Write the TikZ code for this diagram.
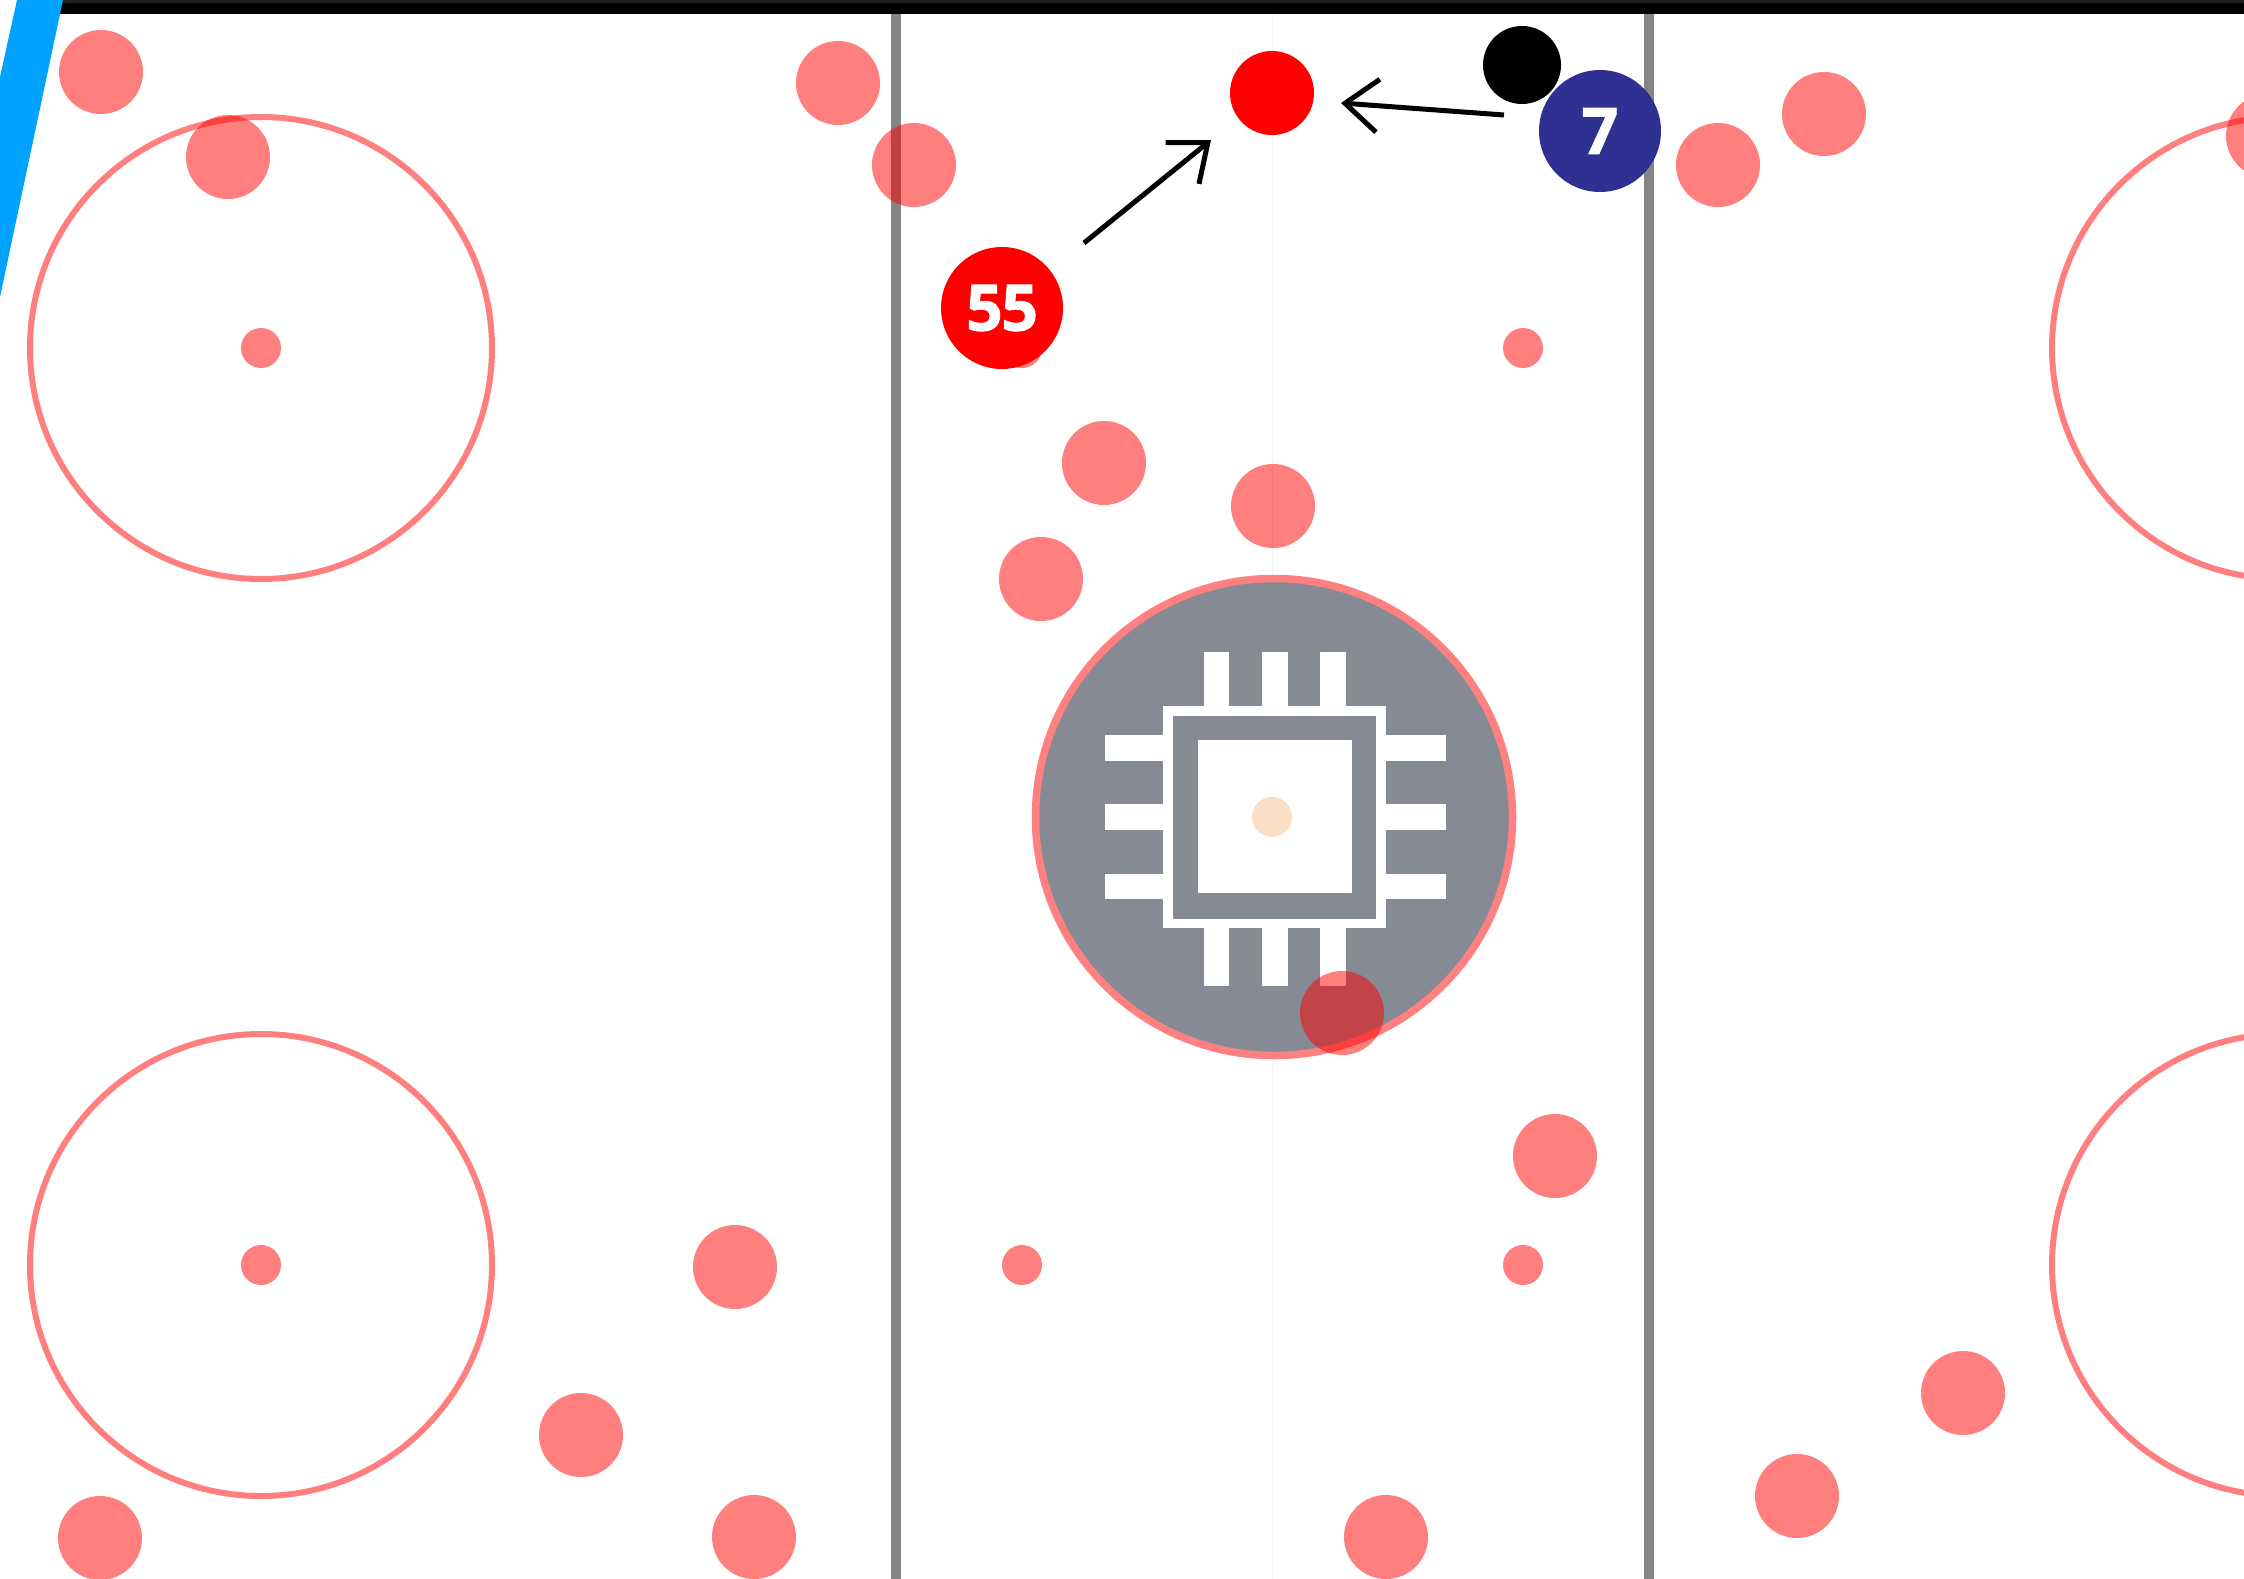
\documentclass[tikz,border=0pt]{standalone}
\usepackage{fontspec}
\setmainfont{Open Sans}[BoldFeatures={FakeBold=1.5,LetterSpace=-2}]
\usetikzlibrary{arrows.meta}
\definecolor{iceblue}{HTML}{00A2FF}
\definecolor{chipgrey}{HTML}{868A94}
\definecolor{linegrey}{HTML}{858585}
\definecolor{navypuck}{HTML}{2E3192}
\definecolor{peach}{HTML}{FADFC4}
\tikzset{
  x=1pt,y=-1pt,
  spot/.style={circle,inner sep=0pt,outer sep=0pt,fill=red,fill opacity=.5,minimum size=84pt},
  tinyspot/.style={circle,inner sep=0pt,outer sep=0pt,fill=red,fill opacity=.5,minimum size=40pt},
  ring/.style={circle,inner sep=0pt,outer sep=0pt,draw=red,draw opacity=.5,line width=6pt,minimum size=462pt},
  player/.style={circle,inner sep=0pt,outer sep=0pt,minimum size=122pt,text=white,font=\fontsize{64}{64}\selectfont\bfseries},
  pin/.style={fill=white,draw=none},
  move/.style={black,line width=5pt,-{Straight Barb[length=33pt,width=53pt,line width=5pt]}},
  blueline/.style={fill=linegrey,draw=none},
}
\begin{document}
\begin{tikzpicture}
\useasboundingbox (0,0) rectangle (2244,1579);
\clip (0,0) rectangle (2244,1579);
\fill[white] (0,0) rectangle (2244,1579);
% centre line and blue lines
\draw[black!5,line width=1pt] (1272,13) -- (1272,1579);
\path[blueline] (891,10) rectangle (901,1579);
\path[blueline] (1644,10) rectangle (1654,1579);
% top board
\fill[black] (60,0) rectangle (2244,14);
\fill[black!88] (60,0) rectangle (2244,3);
\fill[iceblue] (17,0) -- (63,0) -- (0,297) -- (0,77) -- cycle;
% faceoff circles
\node[ring] (c1) at (261,348) {};
\node[ring] (c2) at (261,1265) {};
\node[ring] (c3) at (2283,348) {};
\node[ring] (c4) at (2283,1265) {};
% centre circle with chip
\node[circle,inner sep=0pt,fill=chipgrey,minimum size=474pt] (centre) at (1274,817) {};
\node[circle,inner sep=0pt,draw=red!50,line width=7.5pt,minimum size=477pt] (centrering) at (1274,817) {};
\path[pin] (1163,706) rectangle (1386,928);
\fill[chipgrey] (1173,716) rectangle (1376,919);
\path[pin] (1197.5,740) rectangle (1352,893);
\path[pin] (1204,652) rectangle (1229,706);
\path[pin] (1262,652) rectangle (1287.5,706);
\path[pin] (1320,652) rectangle (1346,706);
\path[pin] (1204,928) rectangle (1229,986);
\path[pin] (1262,928) rectangle (1287.5,986);
\path[pin] (1320,928) rectangle (1346,986);
\path[pin] (1105,735) rectangle (1163,761);
\path[pin] (1105,804) rectangle (1163,830);
\path[pin] (1105,874) rectangle (1163,899);
\path[pin] (1386,735) rectangle (1446,761);
\path[pin] (1386,804) rectangle (1446,830);
\path[pin] (1386,874) rectangle (1446,899);
\node[circle,inner sep=0pt,fill=peach,minimum size=40pt] (centredot) at (1272,817) {};
% tiny spots
\node[tinyspot] (t1) at (261,348) {};
\node[tinyspot] (t2) at (1022,348) {};
\node[tinyspot] (t3) at (1523,348) {};
\node[tinyspot] (t4) at (261,1265) {};
\node[tinyspot] (t5) at (1022,1265) {};
\node[tinyspot] (t6) at (1523,1265) {};
% spots
\node[spot] (s1) at (101,72) {};
\node[spot] (s2) at (228,157) {};
\node[spot] (s3) at (838,83) {};
\node[spot] (s4) at (914,165) {};
\node[spot] (s5) at (1104,463) {};
\node[spot] (s6) at (1273,506) {};
\node[spot] (s7) at (1041,579) {};
\node[spot] (s8) at (1342,1013) {};
\node[spot] (s9) at (1555,1156) {};
\node[spot] (s10) at (735,1267) {};
\node[spot] (s11) at (581,1435) {};
\node[spot] (s12) at (100,1538) {};
\node[spot] (s13) at (754,1537) {};
\node[spot] (s14) at (1386,1537) {};
\node[spot] (s15) at (1797,1496) {};
\node[spot] (s16) at (1963,1393) {};
\node[spot] (s17) at (1718,165) {};
\node[spot] (s18) at (1824,114) {};
\node[spot] (s19) at (2268,136) {};
% pucks and players
\node[circle,inner sep=0pt,fill=red,minimum size=84pt] (puck) at (1272,93) {};
\node[circle,inner sep=0pt,fill=black,minimum size=78pt] (blackpuck) at (1522,65) {};
\node[player,fill=red] (p55) at (1002,308) {55};
\node[player,fill=navypuck] (p7) at (1600,131) {7};
% arrows
\coordinate (a1s) at (1084,243);
\coordinate (a1e) at (1211,140);
\coordinate (a2s) at (1504,115);
\coordinate (a2e) at (1341,103);
\draw[move] (a1s) -- (a1e);
\draw[move] (a2s) -- (a2e);
\end{tikzpicture}
\end{document}
